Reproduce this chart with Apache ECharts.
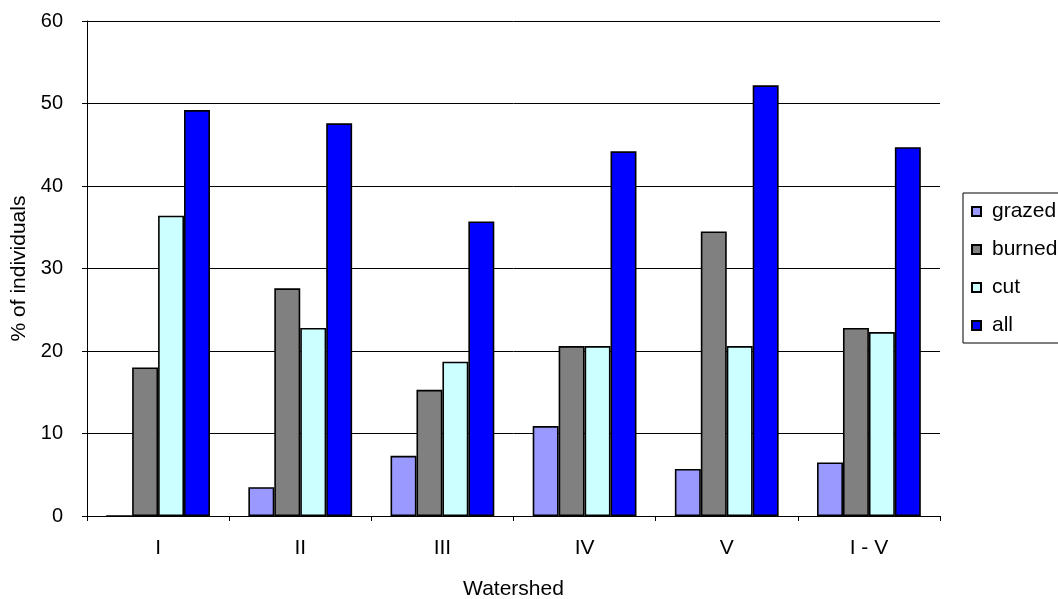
<!DOCTYPE html>
<html>
<head>
<meta charset="utf-8">
<script src="https://cdn.jsdelivr.net/npm/echarts@6/dist/echarts.min.js"></script>
<style>
html,body{margin:0;padding:0;background:#fff;}
#chart{width:1058px;height:599px;}
</style>
</head>
<body>
<div id="chart"></div>
<script>
const categories = ['I', 'II', 'III', 'IV', 'V', 'I - V'];
const grazed = [0, 3.5, 7.3, 10.9, 5.7, 6.5];
const burned = [18.0, 27.6, 15.3, 20.6, 34.5, 22.8];
const cut = [36.4, 22.8, 18.7, 20.6, 20.6, 22.3];
const all = [49.2, 47.6, 35.7, 44.2, 52.2, 44.7];
const yTicks = [0, 10, 20, 30, 40, 50, 60];

const FONT = "'Liberation Sans', Arial, sans-serif";
const chart = echarts.init(document.getElementById('chart'), null, {renderer: 'canvas'});

function barSeries(name, data, color) {
  return {
    name: name,
    type: 'bar',
    data: data,
    barGap: '0%',
    barCategoryGap: '27%',
    itemStyle: {color: color, borderColor: '#000', borderWidth: 1.6},
    emphasis: {disabled: true}
  };
}

chart.setOption({
  animation: false,
  backgroundColor: '#fff',
  textStyle: {fontFamily: FONT},
  grid: {left: 87, right: 118, top: 21, bottom: 83, containLabel: false, outerBoundsMode: 'none'},
  legend: {
    orient: 'vertical',
    left: 963,
    top: 193,
    width: 130,
    padding: [8, 40, 7, 8],
    itemGap: 17,
    itemWidth: 9,
    itemHeight: 9,
    icon: 'rect',
    borderColor: '#000',
    borderWidth: 1,
    textStyle: {fontFamily: FONT, fontSize: 21, color: '#000', padding: [0, 0, 0, 6]},
    data: ['grazed', 'burned', 'cut', 'all']
  },
  xAxis: {
    type: 'category',
    data: categories,
    name: 'Watershed',
    nameLocation: 'middle',
    nameGap: 63,
    nameTextStyle: {fontFamily: FONT, fontSize: 21, color: '#000'},
    axisLine: {show: true, lineStyle: {color: '#000', width: 1}},
    axisTick: {show: true, length: 5, lineStyle: {color: '#000'}},
    axisLabel: {fontFamily: FONT, fontSize: 21, color: '#000', margin: 22},
    splitLine: {show: false}
  },
  yAxis: {
    type: 'value',
    min: yTicks[0],
    max: yTicks[yTicks.length - 1],
    interval: 10,
    name: '% of individuals',
    nameLocation: 'middle',
    nameGap: 52,
    nameRotate: 90,
    nameTextStyle: {fontFamily: FONT, fontSize: 21, color: '#000'},
    axisLine: {show: true, lineStyle: {color: '#000', width: 1}},
    axisTick: {show: true, length: 5, lineStyle: {color: '#000'}},
    axisLabel: {fontFamily: FONT, fontSize: 20, color: '#000', margin: 24},
    splitLine: {show: true, lineStyle: {color: '#000', width: 1}}
  },
  series: [
    barSeries('grazed', grazed, '#9999FF'),
    barSeries('burned', burned, '#808080'),
    barSeries('cut', cut, '#CCFFFF'),
    barSeries('all', all, '#0000FF')
  ]
});
</script>
</body>
</html>
